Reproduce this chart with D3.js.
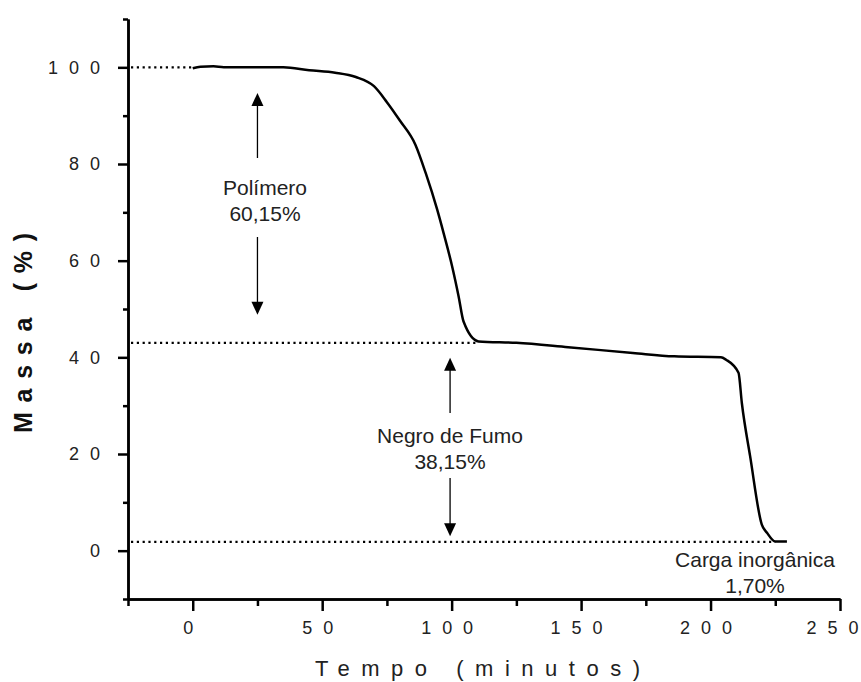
<!DOCTYPE html>
<html>
<head>
<meta charset="utf-8">
<script src="https://cdn.jsdelivr.net/npm/d3@7"></script>
<style>
  body { margin: 0; background: #fff; }
  svg { display: block; font-family: "Liberation Sans", Arial, sans-serif; }
</style>
</head>
<body>
<svg id="chart" width="861" height="682"></svg>
<script>
// TGA curve
var tempo = [0, 3, 8, 12, 25, 35, 45, 55, 63, 70, 75, 80, 86, 90, 94.4, 96.9, 100.2, 102.7, 104.6, 110.4,
             125, 145, 170, 186, 204, 206, 210.8, 212.1, 215.3, 219.8, 221.8, 225, 229.5];
var massa = [99.8, 100.1, 100.2, 100.0, 100.0, 100.0, 99.4, 98.9, 98.0, 96.1, 92.8, 89.0, 84.0, 78.1, 70.6, 65.7, 58.8, 52.6, 47.4, 43.3,
             43.0, 42.1, 40.9, 40.2, 40.0, 39.5, 36.8, 30.5, 19.5, 5.4, 3.7, 1.9, 1.9];

var xTicks = [0, 50, 100, 150, 200, 250];
var xMinor = [-25, 25, 75, 125, 175, 225];
var yTicks = [0, 20, 40, 60, 80, 100];
var yMinor = [-10, 10, 30, 50, 70, 90, 110];

// dotted reference levels and where they stop
var levels = [100, 43, 1.8];
var levelEnds = [0, 110.4, 225];

// annotations: label lines, arrow time, arrow top/bottom mass
var labelLines = [["Polímero", "60,15%"], ["Negro de Fumo", "38,15%"], ["Carga inorgânica", "1,70%"]];
var arrowAt = [25, 99.4, null];
var arrowTop = [94.7, 39.9, null];
var arrowBottom = [48.8, 3.0, null];

var svg = d3.select("#chart");
var x = d3.scaleLinear().domain([-25, 250]).range([128, 840]);
var y = d3.scaleLinear().domain([-10, 110]).range([599, 19]);

svg.append("rect").attr("width", 861).attr("height", 682).attr("fill", "#fff");

//Axes
var gx = svg.append("g").attr("transform", "translate(0,599)")
  .call(d3.axisBottom(x).tickValues(xTicks).tickSize(12).tickSizeOuter(0).tickPadding(10).tickFormat(d3.format("d")));
gx.append("g").call(d3.axisBottom(x).tickValues(xMinor).tickSize(7).tickSizeOuter(0).tickFormat(""));

var gy = svg.append("g").attr("transform", "translate(128,0)")
  .call(d3.axisLeft(y).tickValues(yTicks).tickSize(10).tickSizeOuter(0).tickPadding(18).tickFormat(d3.format("d")));
gy.append("g").call(d3.axisLeft(y).tickValues(yMinor).tickSize(5).tickSizeOuter(0).tickFormat(""));

svg.selectAll(".domain, .tick line").attr("stroke", "#000").attr("stroke-width", 2.5);

// spread the digits like the old plotting program did
svg.selectAll(".tick text")
  .attr("fill", "#222")
  .style("font-size", "18px")
  .each(function(){
    var n = this.textContent.length;
    if (n > 1) d3.select(this).attr("textLength", n * 10 + (n - 1) * 11).attr("lengthAdjust", "spacing");
  });
gx.selectAll(".tick text").attr("dx", function(d){ return d === 250 ? -8 : -5; });

//Axis titles
svg.append("text")
  .attr("x", 315).attr("y", 676)
  .attr("textLength", 325).attr("lengthAdjust", "spacing")
  .attr("fill", "#222")
  .style("font-size", "22px")
  .text("Tempo (minutos)");

svg.append("text")
  .attr("transform", "translate(32,433) rotate(-90)")
  .attr("textLength", 200).attr("lengthAdjust", "spacing")
  .attr("fill", "#111")
  .style("font-size", "25px")
  .style("font-weight", "bold")
  .text("Massa (%)");

//Dotted levels
svg.selectAll(".level").data(levels).enter().append("line")
  .attr("class", "level")
  .attr("x1", 131)
  .attr("x2", function(d, i){ return x(levelEnds[i]); })
  .attr("y1", function(d){ return y(d); })
  .attr("y2", function(d){ return y(d); })
  .attr("stroke", "#000").attr("stroke-width", 2.2)
  .attr("stroke-dasharray", "2.2,3.6");

//Curve
var pts = tempo.map(function(t, i){ return [t, massa[i]]; });
svg.append("path")
  .datum(pts)
  .attr("fill", "none").attr("stroke", "#000").attr("stroke-width", 2.5)
  .attr("stroke-linejoin", "round")
  .attr("d", d3.line().curve(d3.curveMonotoneX)
    .x(function(d){ return x(d[0]); }).y(function(d){ return y(d[1]); }));

//Arrows
function arrow(xp, yTip, yEnd){
  var dir = yTip < yEnd ? 1 : -1;
  svg.append("line").attr("x1", xp).attr("x2", xp)
    .attr("y1", yTip + dir * 12).attr("y2", yEnd)
    .attr("stroke", "#000").attr("stroke-width", 1.3);
  svg.append("path")
    .attr("d", "M" + xp + "," + yTip + "L" + (xp - 6) + "," + (yTip + dir * 13) + "L" + (xp + 6) + "," + (yTip + dir * 13) + "Z")
    .attr("fill", "#000");
}
var gapTop = [158, 413], gapBottom = [237, 478];
for (var i = 0; i < 2; i++) {
  arrow(x(arrowAt[i]), y(arrowTop[i]), gapTop[i]);
  arrow(x(arrowAt[i]), y(arrowBottom[i]), gapBottom[i]);
}

//Labels
var labelX = [265, 450, 755];
var labelY = [195, 443, 567];
labelLines.forEach(function(lines, i){
  lines.forEach(function(s, j){
    svg.append("text")
      .attr("x", labelX[i]).attr("y", labelY[i] + j * 26)
      .attr("text-anchor", "middle")
      .attr("fill", "#222")
      .style("font-size", "21px")
      .text(s);
  });
});
</script>
</body>
</html>
